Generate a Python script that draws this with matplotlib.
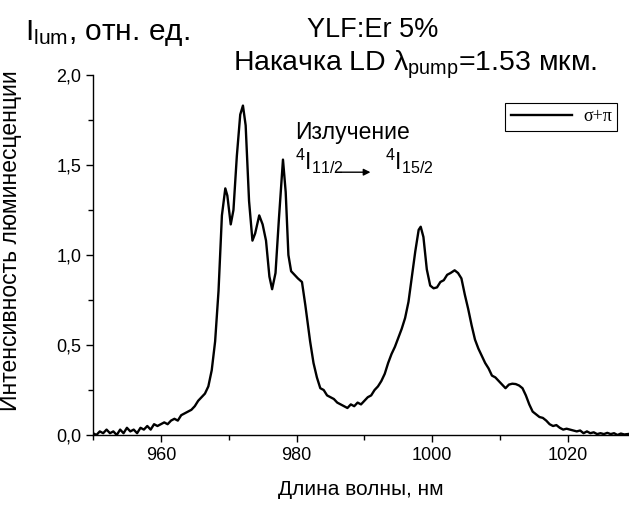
import numpy as np
import matplotlib
matplotlib.use("Agg")
import matplotlib.pyplot as plt
from matplotlib.ticker import MultipleLocator, FuncFormatter

plt.rcParams['font.family'] = ['Liberation Sans', 'DejaVu Sans']
plt.rcParams['mathtext.fontset'] = 'custom'
plt.rcParams['mathtext.rm'] = 'Liberation Sans'
plt.rcParams['mathtext.it'] = 'Liberation Sans'

# spectrum (wavelength nm, intensity rel. units)
wavelength = [950, 950.5, 951, 951.5, 952, 952.5, 953, 953.5, 954, 954.5, 955, 955.5,
              956, 956.5, 957, 957.5, 958, 958.5, 959, 959.5, 960, 960.5, 961, 961.5,
              962, 962.5, 963, 963.5, 964, 964.5, 965, 965.5, 966, 966.5, 967, 967.5,
              968, 968.5, 969, 969.5, 969.8, 970.3, 970.7, 971.2, 971.7, 972.1, 972.5,
              973, 973.5, 973.9, 974.5, 975, 975.5, 976, 976.4, 976.9, 977.4, 978,
              978.4, 978.8, 979.2, 979.7, 980.2, 980.8, 981.3, 982, 982.5, 983, 983.5,
              984, 984.5, 985, 985.5, 986, 986.5, 987, 987.5, 988, 988.5, 989, 989.5,
              990, 990.5, 991, 991.5, 992, 992.5, 993, 993.5, 994, 994.5, 995, 995.5,
              996, 996.5, 997, 997.5, 998, 998.3, 998.7, 999.2, 999.7, 1000.2, 1000.7,
              1001.2, 1001.7, 1002.2, 1002.7, 1003.3, 1003.8, 1004.3, 1004.8, 1005.3,
              1005.8, 1006.3, 1006.8, 1007.3, 1007.8, 1008.3, 1008.8, 1009.3, 1009.8,
              1010.3, 1010.8, 1011.3, 1011.8, 1012.3, 1012.8, 1013.3, 1013.8, 1014.3,
              1014.8, 1015.3, 1015.8, 1016.3, 1016.8, 1017.3, 1017.8, 1018.3, 1018.8,
              1019.3, 1019.8, 1020.3, 1020.8, 1021.3, 1021.8, 1022.3, 1022.8, 1023.3,
              1023.8, 1024.3, 1024.8, 1025.3, 1025.8, 1026.3, 1026.8, 1027.3, 1027.8,
              1028.3, 1029]
intensity = [0.01, 0.0, 0.02, 0.01, 0.03, 0.01, 0.02, 0.0, 0.03, 0.01, 0.04, 0.02,
             0.03, 0.01, 0.04, 0.03, 0.05, 0.03, 0.06, 0.05, 0.06, 0.07, 0.06, 0.08,
             0.09, 0.08, 0.11, 0.12, 0.13, 0.14, 0.16, 0.19, 0.21, 0.23, 0.27, 0.36,
             0.52, 0.80, 1.22, 1.37, 1.33, 1.17, 1.25, 1.55, 1.78, 1.83, 1.72,
             1.30, 1.08, 1.12, 1.22, 1.17, 1.08, 0.88, 0.81, 0.90, 1.20, 1.53,
             1.35, 1.00, 0.91, 0.89, 0.87, 0.85, 0.72, 0.52, 0.40, 0.32, 0.26,
             0.25, 0.22, 0.21, 0.20, 0.18, 0.17, 0.16, 0.15, 0.17, 0.16, 0.18, 0.17,
             0.19, 0.21, 0.22, 0.25, 0.27, 0.30, 0.34, 0.40, 0.45, 0.49, 0.54, 0.59,
             0.65, 0.74, 0.88, 1.02, 1.14, 1.157, 1.10, 0.92, 0.83, 0.815, 0.82,
             0.85, 0.86, 0.89, 0.90, 0.915, 0.90, 0.87, 0.78, 0.70,
             0.61, 0.53, 0.48, 0.44, 0.40, 0.37, 0.33, 0.32, 0.30,
             0.28, 0.26, 0.28, 0.285, 0.283, 0.275, 0.26, 0.22, 0.17,
             0.13, 0.115, 0.10, 0.095, 0.08, 0.06, 0.05, 0.055, 0.04,
             0.03, 0.035, 0.03, 0.025, 0.02, 0.025, 0.01, 0.02, 0.01,
             0.015, 0.005, 0.01, 0.005, 0.012, 0.005, 0.01, 0.0, 0.008,
             0.003, 0.006]

fig = plt.figure(figsize=(6.29, 5.07), dpi=100)
ax = fig.add_axes([93/629, 72/507, 536/629, 360/507])

ax.plot(wavelength, intensity, color='black', lw=1.7, label='σ+π')

ax.set_xlim(950, 1029)
ax.set_ylim(0, 2.0)
ax.xaxis.set_major_locator(MultipleLocator(20))
ax.xaxis.set_minor_locator(MultipleLocator(10))
ax.yaxis.set_major_locator(MultipleLocator(0.5))
ax.yaxis.set_minor_locator(MultipleLocator(0.25))
ax.yaxis.set_major_formatter(FuncFormatter(lambda v, p: f"{v:.1f}".replace('.', ',')))
ax.tick_params(which='major', length=5, width=1, labelsize=13, direction='out')
ax.tick_params(which='minor', length=3.5, width=1, direction='out')
ax.spines['top'].set_visible(False)
ax.spines['right'].set_visible(False)
ax.spines['left'].set_linewidth(1)
ax.spines['bottom'].set_linewidth(1)

ax.set_xlabel('Длина волны, нм', fontsize=15, labelpad=12)
ax.set_ylabel('Интенсивность люминесценции', fontsize=16.5)
ax.yaxis.set_label_coords(-0.132, 0.54)

leg = ax.legend(loc='upper right', bbox_to_anchor=(0.978, 0.922), borderaxespad=0,
                fancybox=False, edgecolor='black', framealpha=1, handlelength=3.4,
                borderpad=0.3, handletextpad=0.6,
                prop={'family': 'Liberation Serif', 'size': 13})
leg.get_frame().set_linewidth(0.8)

# transition annotation
ax.text(979.8, 1.68, 'Излучение', fontsize=16.5, va='center')
ax.text(979.8, 1.52, r'$^4$I$_{11/2}$', fontsize=16.5, va='center')
ax.text(993.0, 1.52, r'$^4$I$_{15/2}$', fontsize=16.5, va='center')
ax.annotate('', xy=(991.3, 1.46), xytext=(985.4, 1.46),
            arrowprops=dict(arrowstyle='-|>', color='black', lw=1, mutation_scale=10))

fig.text(25/629, 1 - 33/507, r'I$_{\mathrm{lum}}$, отн. ед.', fontsize=21.5, va='center')
fig.text(373/629, 1 - 30/507, 'YLF:Er 5%', fontsize=19.5, va='center', ha='center')
fig.text(415/629, 1 - 65/507, r'Накачка LD $\lambda_{\mathrm{pump}}$=1.53 мкм.',
         fontsize=20.5, va='center', ha='center')

fig.savefig('out.png', dpi=100)
